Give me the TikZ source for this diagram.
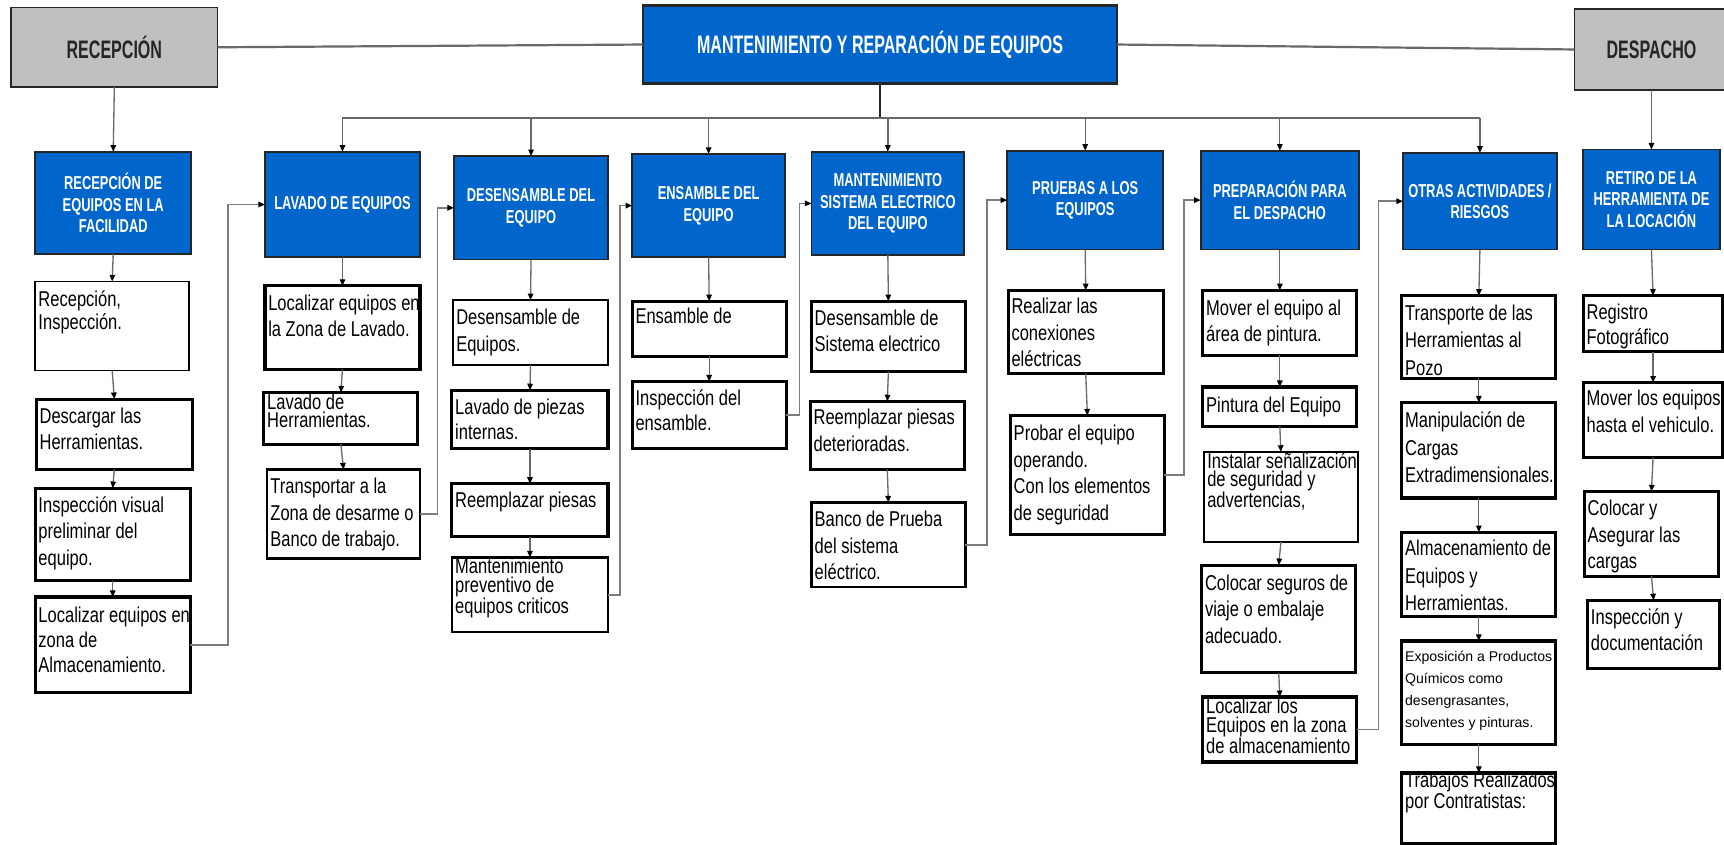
\documentclass[tikz,border=0pt]{standalone}
\usepackage{fontspec}
\setmainfont{Liberation Sans}
\newfontfamily\bodyfont{Liberation Sans}[FakeStretch=0.77]
\newfontfamily\hdrfont{Liberation Sans}[FakeStretch=0.69]
\newfontfamily\titlefont{Liberation Sans}[FakeStretch=0.635]
\newfontfamily\smallfont{Liberation Sans}
\usetikzlibrary{arrows.meta,calc}

\definecolor{hdrblue}{RGB}{0,102,204}
\definecolor{stagegray}{RGB}{192,192,192}
\definecolor{linegray}{RGB}{105,105,105}
\definecolor{elbgray}{RGB}{125,125,125}

\tikzset{
  stagebox/.style={draw=black!85, line width=1.3pt, fill=stagegray, inner sep=0pt, outer sep=0pt,
    font=\titlefont\bfseries\fontsize{23}{26}\selectfont, text=black!85},
  titlebox/.style={draw=black!85, line width=2pt, fill=hdrblue, inner sep=0pt, outer sep=0pt,
    font=\titlefont\bfseries\fontsize{23}{26}\selectfont, text=white},
  hdrbox/.style={draw=black!85, line width=1.6pt, fill=hdrblue, inner sep=0pt, outer sep=0pt,
    align=center, font=\hdrfont\bfseries\fontsize{17}{19.5}\selectfont, text=white},
  wbox/.style={draw=black, fill=white, inner sep=0pt, outer sep=0pt},
  thinb/.style={line width=1.4pt},
  medb/.style={line width=2.1pt},
  thickb/.style={line width=2.9pt},
  wtext/.style={inner sep=0pt, outer sep=0pt, anchor=base west,
    font=\bodyfont\fontsize{19.5}{24}\selectfont},
  p21/.style={font=\bodyfont\fontsize{19.5}{21}\selectfont},
  p23/.style={font=\bodyfont\fontsize{19.5}{23}\selectfont},
  p25/.style={font=\bodyfont\fontsize{19.5}{25}\selectfont},
  p22/.style={font=\bodyfont\fontsize{19.5}{22.5}\selectfont},
  tight/.style={font=\bodyfont\fontsize{19.5}{16.8}\selectfont},
  small/.style={font=\smallfont\fontsize{12.8}{20}\selectfont},
  arr/.style={draw=linegray, line width=1.2pt, -{Triangle[length=6pt,width=5pt,color=black]}},
  elb/.style={draw=elbgray, line width=1.3pt, -{Triangle[length=6pt,width=5pt,color=black]}},
  link/.style={draw=linegray, line width=2pt},
  trunk/.style={draw=black!85, line width=2.2pt},
  busline/.style={draw=linegray, line width=1.5pt},
}

% white step box: border style, text style, name, x1, y1, x2, y2, first baseline offset, text
\newcommand\wnode[9]{%
  \node[wbox,#1,minimum width={#6-#4},minimum height={#7-#5},anchor=north west] (#3) at (#4,#5) {};
  \pgfmathsetmacro\twid{#6-#4+30}%
  \node[wtext,#2] (#3t) at ($(#3.north west)+(3,#8)$) {\parbox[t]{\twid pt}{\raggedright #9}};}

% blue stage header: name, x1, y1, x2, y2, text
\newcommand\hnode[6]{%
  \node[hdrbox,minimum width={#4-#2},minimum height={#5-#3},anchor=north west] (#1) at (#2,#3) {#6};}

\begin{document}
\begin{tikzpicture}[x=1pt,y=-1pt]
\fill[white] (0,0) rectangle (1568,768);
\useasboundingbox (0,0) rectangle (1568,768);

% top row
\node[stagebox,minimum width=188,minimum height=72,anchor=north west] (recep) at (10,7) {RECEPCIÓN};
\node[titlebox,minimum width=431,minimum height=71,anchor=north west] (main) at (585,5) {MANTENIMIENTO Y REPARACIÓN DE EQUIPOS};
\node[stagebox,minimum width=140,minimum height=74,anchor=north west] (desp) at (1432,8) {DESPACHO};

\draw[link] (recep.east) -- (main.west);
\draw[link] (main.east) -- (desp.west);

% stage headers
\hnode{h1}{32}{138}{174}{231}{RECEPCIÓN DE\\EQUIPOS EN LA\\FACILIDAD}
\hnode{h2}{241}{138}{382}{234}{LAVADO DE EQUIPOS}
\hnode{h3}{413}{142}{553}{236}{DESENSAMBLE DEL\\EQUIPO}
\hnode{h4}{575}{140}{714}{234}{ENSAMBLE DEL\\EQUIPO}
\hnode{h5}{738}{138}{877}{232}{MANTENIMIENTO\\SISTEMA ELECTRICO\\DEL EQUIPO}
\hnode{h6}{916}{137}{1058}{227}{PRUEBAS A LOS\\EQUIPOS}
\hnode{h7}{1092}{137}{1236}{227}{PREPARACIÓN PARA\\EL DESPACHO}
\hnode{h8}{1276}{139}{1416}{227}{OTRAS ACTIVIDADES /\\RIESGOS}
\hnode{h9}{1440}{136}{1564}{227}{RETIRO DE LA\\HERRAMIENTA DE\\LA LOCACIÓN}

% distribution from the main process
\coordinate (bus) at (800,107.6);
\draw[trunk] (main.south) -- (main.south |- bus);
\draw[busline] (h2.north |- bus) -- (h8.north |- bus);
\foreach \h in {h2,h3,h4,h5,h6,h7,h8}
  \draw[arr] (\h.north |- bus) -- (\h.north);
\draw[arr] (recep.south) -- (h1.north);
\draw[arr] (desp.south) -- (h9.north);

% column 1
\wnode{thinb}{p21}{a1}{32}{256}{172}{337}{23}{Recepción,\\Inspección.}
\wnode{thickb}{}{a2}{33}{363}{175}{427}{22}{Descargar las\\Herramientas.}
\wnode{thickb}{}{a3}{32}{444}{173}{528}{22}{Inspección visual\\preliminar del\\equipo.}
\wnode{thickb}{p23}{a4}{32}{543}{173}{630}{23}{Localizar equipos en\\zona de\\Almacenamiento.}

% column 2
\wnode{thickb}{}{b1}{241}{260}{382}{336}{22.5}{Localizar equipos en\\la Zona de Lavado.}
\wnode{thickb}{tight}{b2}{240}{357}{380}{404}{15}{Lavado de\\Herramientas.}
\wnode{medb}{}{b3}{243}{427}{382}{508}{22}{Transportar a la\\Zona de desarme o\\Banco de trabajo.}

% column 3
\wnode{thinb}{}{c1}{412}{273}{553}{332}{22.5}{Desensamble de\\Equipos.}
\wnode{thickb}{p23}{c2}{411}{355}{553}{408}{22}{Lavado de piezas\\internas.}
\wnode{thickb}{}{c3}{411}{440}{553}{488}{21.5}{Reemplazar piesas}
\wnode{medb}{tight}{c4}{411}{507}{553}{575}{15}{Mantenimiento\\preventivo de\\equipos criticos}

% column 4
\wnode{thickb}{}{d1}{575}{274}{715}{324}{20.5}{Ensamble de}
\wnode{thickb}{p23}{d2}{575}{347}{715}{408}{21.5}{Inspección del\\ensamble.}

% column 5
\wnode{thickb}{}{e1}{738}{274}{878}{338}{22}{Desensamble de\\Sistema electrico}
\wnode{thickb}{}{e2}{737}{365}{877}{427}{21.5}{Reemplazar piesas\\deterioradas.}
\wnode{medb}{}{e3}{738}{457}{878}{534}{22}{Banco de Prueba\\del sistema\\eléctrico.}

% column 6
\wnode{thickb}{}{f1}{917}{264}{1058}{340}{21.5}{Realizar las\\conexiones\\eléctricas}
\wnode{medb}{}{f2}{919}{378}{1059}{486}{23}{Probar el equipo\\operando.\\Con los elementos\\de seguridad}

% column 7
\wnode{thickb}{}{g1}{1094}{264}{1234}{323}{22.5}{Mover el equipo al\\área de pintura.}
\wnode{thickb}{}{g2}{1094}{352}{1234}{388}{23}{Pintura del Equipo}
\wnode{medb}{tight}{g3}{1095}{411}{1235}{493}{15}{Instalar señalización\\de seguridad y\\advertencias,}
\wnode{thickb}{}{g4}{1093}{514}{1233}{612}{23}{Colocar seguros de\\viaje o embalaje\\adecuado.}
\wnode{thickb}{tight}{g5}{1094}{634}{1234}{693}{15}{Localizar los\\Equipos en la zona\\de almacenamiento}

% column 8
\wnode{thickb}{p25}{i1}{1275}{269}{1415}{344}{22.5}{Transporte de las\\Herramientas al\\Pozo}
\wnode{thickb}{p25}{i2}{1275}{366}{1415}{453}{23}{Manipulación de\\Cargas\\Extradimensionales.}
\wnode{thickb}{p25}{i3}{1275}{484}{1415}{561}{21.5}{Almacenamiento de\\Equipos y\\Herramientas.}
\wnode{thickb}{small}{i4}{1275}{583}{1415}{677}{19}{Exposición a Productos\\Químicos como\\desengrasantes,\\solventes y pinturas.}
\wnode{thickb}{tight}{i5}{1275}{703}{1415}{767}{13}{Trabajos Realizados\\por Contratistas:}

% column 9
\wnode{thickb}{p22}{j1}{1440}{269}{1567}{320}{22}{Registro\\Fotográfico}
\wnode{thickb}{}{j2}{1440}{348}{1567}{416}{21}{Mover los equipos\\hasta el vehiculo.}
\wnode{thickb}{}{j3}{1441}{447}{1563}{524}{22}{Colocar y\\Asegurar las\\cargas}
\wnode{thickb}{}{j4}{1444}{546}{1564}{608}{22}{Inspección y\\documentación}

% arrows down each column
\foreach \u/\v in {h1/a1,a1/a2,a2/a3,a3/a4,
                   h2/b1,b1/b2,b2/b3,
                   h3/c1,c1/c2,c2/c3,c3/c4,
                   h4/d1,d1/d2,
                   h5/e1,e1/e2,e2/e3,
                   h6/f1,f1/f2,
                   h7/g1,g1/g2,g2/g3,g3/g4,g4/g5,
                   h8/i1,i1/i2,i2/i3,i3/i4,i4/i5,
                   h9/j1,j1/j2,j2/j3,j3/j4}
  \draw[arr] (\u.south) -- (\v.north);

% hand-over from the last step of a stage to the next stage
\draw[elb] (a4.east) -| ($(h2.west)+(-33.5,0)$) -- (h2.west);
\draw[elb] (b3.east) -| ($(h3.west)+(-15,0)$) -- (h3.west);
\draw[elb] (c4.east) -| ($(h4.west)+(-11,0)$) -- (h4.west);
\draw[elb] (d2.east) -| ($(h5.west)+(-11,0)$) -- (h5.west);
\draw[elb] (e3.east) -| ($(h6.west)+(-18.5,0)$) -- (h6.west);
\draw[elb] (f2.east) -| ($(h7.west)+(-15,0)$) -- (h7.west);
\draw[elb] (g5.east) -| ($(h8.west)+(-22,0)$) -- (h8.west);
\end{tikzpicture}
\end{document}
